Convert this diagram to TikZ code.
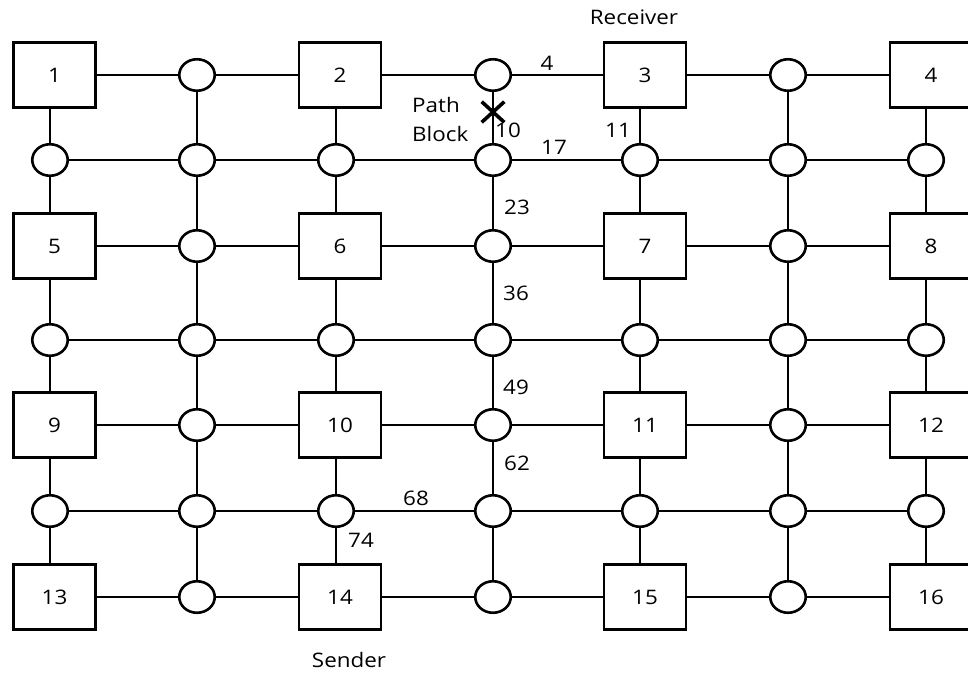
\documentclass[tikz,border=0pt]{standalone}
\usepackage{fontspec}
\setmainfont{Open Sans}
\usetikzlibrary{shapes.geometric,shapes.misc}
\newcommand{\tx}[1]{\scalebox{1.12}[1]{#1}}
\tikzset{
  ln/.style={line width=2.6pt, black},
  boxnode/.style={draw, ln, rectangle, minimum width=82pt, minimum height=64.5pt, inner sep=0pt, fill=white},
  cirnode/.style={draw, ln, ellipse, minimum width=35.5pt, minimum height=31.5pt, inner sep=0pt, fill=white},
  lbl/.style={inner sep=0pt, text=black, font=\fontsize{20}{24}\selectfont}
}
\begin{document}
\begin{tikzpicture}[x=1pt,y=-1pt]
\useasboundingbox (0,0) rectangle (968,675);
\clip (0,0) rectangle (968,675);
% line x positions per column
\foreach \c/\lx in {0/50,1/197,2/336,3/493,4/640,5/788,6/926}
  \coordinate (L-\c) at (\lx,0);
% nodes
\foreach \r/\y in {0/75,1/160,2/246,3/340,4/425,5/511,6/597}{
  \foreach \c/\x/\lx in {0/54.5/50,1/197/197,2/340/336,3/493/493,4/645/640,5/788/788,6/931/926}{
    \pgfmathtruncatemacro\isbox{and(iseven(\r),iseven(\c))}
    \pgfmathtruncatemacro\num{(\r/2)*4+\c/2+1}
    \ifnum\isbox=1
      \node[boxnode, lbl] (n-\r-\c) at (\x,\y) {\tx{\num}};
    \else
      \node[cirnode] (n-\r-\c) at (\lx,\y) {};
    \fi
  }
}
% horizontal connectors
\foreach \r in {0,...,6}{
  \foreach \c in {0,...,5}{
    \pgfmathtruncatemacro\cc{\c+1}
    \draw[ln] (n-\r-\c.east) -- (n-\r-\cc.west);
  }
}
% vertical connectors
\foreach \r in {0,...,5}{
  \foreach \c in {0,...,6}{
    \pgfmathtruncatemacro\rr{\r+1}
    \draw[ln] (n-\r-\c.south -| L-\c) -- (n-\rr-\c.north -| L-\c);
  }
}
% labels
\node[lbl] (rcv) at (634,17) {\tx{Receiver}};
\node[lbl] (snd) at (349,660) {\tx{Sender}};
\node[lbl, anchor=west, align=left, font=\fontsize{20}{29}\selectfont] (pb) at (412,119) {\tx{Path}\\\tx{Block}};
\node[draw, cross out, line width=3.6pt, minimum width=19pt, minimum height=17pt, inner sep=0pt] (blk) at (493,112) {};
\node[lbl] (w4) at (547,63) {\tx{4}};
\node[lbl] (w10) at (508,130) {\tx{10}};
\node[lbl] (w17) at (554,147) {\tx{17}};
\node[lbl] (w11) at (618,130) {\tx{11}};
\node[lbl] (w23) at (517,207) {\tx{23}};
\node[lbl] (w36) at (516,293) {\tx{36}};
\node[lbl] (w49) at (516,387) {\tx{49}};
\node[lbl] (w62) at (517,463) {\tx{62}};
\node[lbl] (w68) at (416,498) {\tx{68}};
\node[lbl] (w74) at (361,540) {\tx{74}};
\end{tikzpicture}
\end{document}
